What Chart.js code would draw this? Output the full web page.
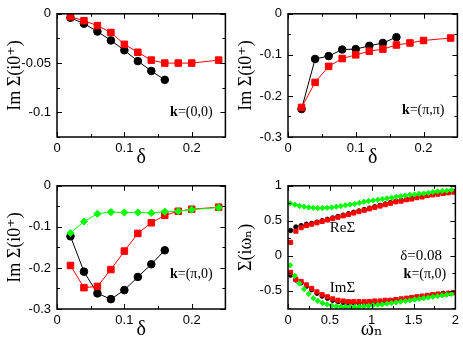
<!DOCTYPE html>
<html>
<head>
<meta charset="utf-8">
<script src="https://cdn.jsdelivr.net/npm/chart.js@4/dist/chart.umd.min.js"></script>
<style>
  body { margin: 0; background: #fff; width: 463px; height: 344px; position: relative; overflow: hidden; }
  canvas { position: absolute; }
</style>
</head>
<body>
<canvas id="c1" width="231" height="172" style="left:0;top:0"></canvas>
<canvas id="c2" width="232" height="172" style="left:231px;top:0"></canvas>
<canvas id="c3" width="231" height="172" style="left:0;top:172px"></canvas>
<canvas id="c4" width="232" height="172" style="left:231px;top:172px"></canvas>
<script>
// doping values
const deltaShort = [0.02, 0.04, 0.06, 0.08, 0.10, 0.12, 0.14, 0.16];
const deltaLong = [0.02, 0.04, 0.06, 0.08, 0.10, 0.12, 0.14, 0.16, 0.18, 0.20, 0.24];

// k=(0,0)
const k00Black = [-0.004, -0.010, -0.018, -0.027, -0.037, -0.048, -0.058, -0.067];
const k00Red = [-0.003, -0.007, -0.012, -0.019, -0.031, -0.039, -0.047, -0.050, -0.050, -0.050, -0.047];

// k=(pi,pi)
const kppBlack = [-0.232, -0.110, -0.103, -0.087, -0.086, -0.078, -0.071, -0.057];
const kppRed = [-0.228, -0.167, -0.128, -0.109, -0.100, -0.091, -0.086, -0.076, -0.071, -0.065, -0.059];

// k=(pi,0)
const kp0Black = [-0.123, -0.209, -0.262, -0.276, -0.254, -0.222, -0.191, -0.157];
const kp0Red = [-0.194, -0.248, -0.245, -0.204, -0.159, -0.116, -0.090, -0.072, -0.062, -0.057, -0.052];
const kp0Green = [-0.115, -0.087, -0.068, -0.064, -0.065, -0.065, -0.066, -0.063, -0.062, -0.058, -0.053];

// Matsubara frequencies, delta=0.08, k=(pi,0)
const wnA = [0.031, 0.094, 0.157, 0.220, 0.283, 0.346, 0.408, 0.471, 0.534, 0.597, 0.660, 0.723,
  0.785, 0.848, 0.911, 0.974, 1.037, 1.100, 1.162, 1.225, 1.288, 1.351, 1.414, 1.477,
  1.539, 1.602, 1.665, 1.728, 1.791, 1.854, 1.916, 1.979];
const wnB = [0.027, 0.082, 0.137, 0.192, 0.247, 0.302, 0.357, 0.412, 0.467, 0.522, 0.577, 0.632,
  0.687, 0.742, 0.797, 0.852, 0.907, 0.962, 1.017, 1.072, 1.127, 1.182, 1.237, 1.292,
  1.347, 1.402, 1.457, 1.512, 1.567, 1.622, 1.677, 1.732, 1.787, 1.842, 1.897, 1.952];
const reBlack = [0.36, 0.41, 0.43, 0.45, 0.46, 0.48, 0.50, 0.52, 0.54, 0.56, 0.58, 0.60,
  0.62, 0.64, 0.66, 0.68, 0.70, 0.72, 0.74, 0.76, 0.78, 0.79, 0.81, 0.82,
  0.84, 0.85, 0.87, 0.88, 0.89, 0.90, 0.91, 0.92];
const reRed = [0.19, 0.35, 0.40, 0.43, 0.45, 0.47, 0.49, 0.51, 0.53, 0.55, 0.57, 0.59,
  0.61, 0.63, 0.65, 0.67, 0.69, 0.71, 0.73, 0.75, 0.77, 0.78, 0.80, 0.81,
  0.83, 0.84, 0.86, 0.87, 0.88, 0.89, 0.90, 0.91];
const reGreen = [0.75, 0.73, 0.71, 0.70, 0.69, 0.685, 0.68, 0.68, 0.685, 0.69, 0.70, 0.71,
  0.72, 0.73, 0.74, 0.755, 0.77, 0.78, 0.79, 0.80, 0.81, 0.82, 0.83, 0.84,
  0.85, 0.86, 0.87, 0.875, 0.885, 0.89, 0.90, 0.91, 0.92, 0.925, 0.93, 0.94];
const imBlack = [-0.28, -0.35, -0.39, -0.44, -0.49, -0.54, -0.58, -0.61, -0.64, -0.66, -0.67, -0.68,
  -0.68, -0.68, -0.68, -0.67, -0.67, -0.66, -0.66, -0.65, -0.64, -0.63, -0.62, -0.61,
  -0.60, -0.59, -0.58, -0.57, -0.56, -0.54, -0.54, -0.53];
const imRed = [-0.24, -0.34, -0.37, -0.42, -0.47, -0.52, -0.56, -0.59, -0.62, -0.64, -0.65, -0.66,
  -0.66, -0.66, -0.66, -0.66, -0.65, -0.65, -0.64, -0.64, -0.63, -0.62, -0.61, -0.60,
  -0.59, -0.58, -0.57, -0.56, -0.55, -0.55, -0.54, -0.53];
const imGreen = [-0.14, -0.29, -0.40, -0.48, -0.55, -0.61, -0.65, -0.68, -0.70, -0.715, -0.725, -0.73,
  -0.735, -0.735, -0.735, -0.73, -0.725, -0.72, -0.71, -0.705, -0.70, -0.69, -0.68, -0.67,
  -0.66, -0.65, -0.64, -0.63, -0.62, -0.61, -0.60, -0.59, -0.58, -0.57, -0.56, -0.55];

// tick labels
const deltaTicks = [0, 0.1, 0.2];
const k00Ticks = [0, -0.05, -0.1];
const sigTicks = [0, -0.1, -0.2, -0.3];
const wnTicks = [0, 0.5, 1, 1.5, 2];
const reimTicks = [1, 0.5, 0, -0.5];

const SERIF = '"Liberation Serif", "DejaVu Serif", serif';
const SANS = '"Liberation Sans", Arial, sans-serif';
const RED = '#ff0000', GREEN = '#00ff00', BLACK = '#000000';

const pts = (xs, ys) => ys.map((y, i) => ({ x: xs[i], y }));

function series(xs, ys, color, style, r, line) {
  return {
    data: pts(xs, ys),
    showLine: line,
    borderColor: color,
    borderWidth: 1,
    backgroundColor: color,
    pointStyle: style,
    pointRadius: r,
    pointBorderWidth: 1,
    pointBorderColor: color,
    pointBackgroundColor: color
  };
}

// box + inward ticks on all sides + text notes
const framePlugin = {
  id: 'frame',
  afterDraw(chart, args, o) {
    const { ctx, chartArea: a, scales: { x, y } } = chart;
    ctx.save();
    ctx.strokeStyle = '#000';
    ctx.lineWidth = 1.5;
    ctx.strokeRect(a.left, a.top, a.right - a.left, a.bottom - a.top);
    ctx.lineWidth = 1;
    const marks = (min, max, minor, major) => {
      const out = [];
      for (let k = Math.ceil(min / minor - 1e-6); k * minor <= max + 1e-9; k++) {
        const v = k * minor;
        out.push({ v, big: Math.abs(v / major - Math.round(v / major)) < 1e-6 });
      }
      return out;
    };
    ctx.beginPath();
    marks(x.min, x.max, o.xMinor, o.xMajor).forEach(m => {
      const p = Math.round(x.getPixelForValue(m.v)) + 0.5;
      const l = m.big ? 5 : 3;
      ctx.moveTo(p, a.bottom); ctx.lineTo(p, a.bottom - l);
      ctx.moveTo(p, a.top); ctx.lineTo(p, a.top + l);
    });
    marks(y.min, y.max, o.yMinor, o.yMajor).forEach(m => {
      const p = Math.round(y.getPixelForValue(m.v)) + 0.5;
      const l = m.big ? 5 : 3;
      ctx.moveTo(a.left, p); ctx.lineTo(a.left + l, p);
      ctx.moveTo(a.right, p); ctx.lineTo(a.right - l, p);
    });
    ctx.stroke();

    ctx.fillStyle = '#000';
    ctx.textBaseline = 'middle';
    ctx.textAlign = 'left';
    (o.notes || []).forEach(n => {
      const parts = n.parts.map(p => {
        ctx.font = (p.b ? 'bold ' : '') + n.size + 'px ' + SERIF;
        return { t: p.t, b: p.b, w: ctx.measureText(p.t).width };
      });
      const total = parts.reduce((s, p) => s + p.w, 0);
      let px = x.getPixelForValue(n.x);
      const py = y.getPixelForValue(n.y);
      if (n.align === 'right') px -= total;
      parts.forEach(p => {
        ctx.font = (p.b ? 'bold ' : '') + n.size + 'px ' + SERIF;
        ctx.fillText(p.t, px, py);
        px += p.w;
      });
    });
    ctx.restore();
  }
};

function panel(id, datasets, c) {
  return new Chart(document.getElementById(id), {
    type: 'scatter',
    data: { datasets },
    options: {
      responsive: false,
      animation: false,
      events: [],
      layout: { padding: { top: 5, right: c.padRight, bottom: 0, left: 0 } },
      plugins: { legend: { display: false }, tooltip: { enabled: false }, frame: c.frame },
      scales: {
        x: {
          type: 'linear', min: c.xMin, max: c.xMax,
          afterBuildTicks: s => { s.ticks = c.xTicks.map(v => ({ value: v })); },
          afterFit: s => { s.height = 35; },
          grid: { display: false, drawTicks: false },
          border: { display: false },
          ticks: { padding: 4, color: '#000', autoSkip: false, maxRotation: 0,
            font: { family: SANS, size: 13 }, callback: v => String(v) },
          title: { display: true, text: c.xTitle, color: '#000',
            font: { family: SERIF, size: 20 }, padding: { top: 0, bottom: 2 } }
        },
        y: {
          type: 'linear', min: c.yMin, max: c.yMax,
          afterBuildTicks: s => { s.ticks = c.yTicks.map(v => ({ value: v })); },
          afterFit: s => { s.width = 57; },
          grid: { display: false, drawTicks: false },
          border: { display: false },
          ticks: { padding: 6, color: '#000', autoSkip: false,
            font: { family: SANS, size: 13 }, callback: v => String(v) },
          title: { display: true, text: c.yTitle, color: '#000',
            font: { family: SERIF, size: 18 }, padding: { top: 4, bottom: 0 } }
        }
      }
    },
    plugins: [framePlugin]
  });
}

const kLabel = (rest, x, y) => ({ x, y, align: 'right', size: 14, parts: [{ t: 'k', b: true }, { t: rest }] });

panel('c1', [
  series(deltaLong, k00Red, RED, 'rect', 4.6, true),
  series(deltaShort, k00Black, BLACK, 'circle', 3.8, true)
], {
  padRight: 3, xMin: 0, xMax: 0.25, yMin: -0.125, yMax: 0,
  xTicks: deltaTicks, yTicks: k00Ticks, xTitle: 'δ', yTitle: 'Im Σ(i0⁺)',
  frame: { xMinor: 0.05, xMajor: 0.1, yMinor: 0.025, yMajor: 0.05,
    notes: [kLabel('=(0,0)', 0.231, -0.1)] }
});

panel('c2', [
  series(deltaLong, kppRed, RED, 'rect', 4.6, true),
  series(deltaShort, kppBlack, BLACK, 'circle', 3.8, true)
], {
  padRight: 4, xMin: 0, xMax: 0.25, yMin: -0.3, yMax: 0,
  xTicks: deltaTicks, yTicks: sigTicks, xTitle: 'δ', yTitle: 'Im Σ(i0⁺)',
  frame: { xMinor: 0.05, xMajor: 0.1, yMinor: 0.05, yMajor: 0.1,
    notes: [kLabel('=(π,π)', 0.231, -0.235)] }
});

panel('c3', [
  series(deltaLong, kp0Green, GREEN, 'rectRot', 3.6, true),
  series(deltaLong, kp0Red, RED, 'rect', 4.6, true),
  series(deltaShort, kp0Black, BLACK, 'circle', 3.8, true)
], {
  padRight: 3, xMin: 0, xMax: 0.25, yMin: -0.3, yMax: 0,
  xTicks: deltaTicks, yTicks: sigTicks, xTitle: 'δ', yTitle: 'Im Σ(i0⁺)',
  frame: { xMinor: 0.05, xMajor: 0.1, yMinor: 0.05, yMajor: 0.1,
    notes: [kLabel('=(π,0)', 0.231, -0.216)] }
});

panel('c4', [
  series(wnB, reGreen, GREEN, 'rectRot', 2.6, false),
  series(wnB, imGreen, GREEN, 'rectRot', 2.6, false),
  series(wnA, reRed, RED, 'rect', 2.9, false),
  series(wnA, imRed, RED, 'rect', 2.9, false),
  series(wnA, reBlack, BLACK, 'circle', 2.2, false),
  series(wnA, imBlack, BLACK, 'circle', 2.2, false)
], {
  padRight: 4, xMin: 0, xMax: 2, yMin: -0.765, yMax: 1,
  xTicks: wnTicks, yTicks: reimTicks, xTitle: 'ωₙ', yTitle: 'Σ(iωₙ)',
  frame: { xMinor: 0.25, xMajor: 0.5, yMinor: 0.25, yMajor: 0.5,
    notes: [
      { x: 0.5, y: 0.39, size: 15, parts: [{ t: 'ReΣ' }] },
      { x: 1.84, y: -0.01, align: 'right', size: 15, parts: [{ t: 'δ=0.08' }] },
      { x: 1.89, y: -0.27, align: 'right', size: 14, parts: [{ t: 'k', b: true }, { t: '=(π,0)' }] },
      { x: 0.5, y: -0.47, size: 15, parts: [{ t: 'ImΣ' }] }
    ] }
});
</script>
</body>
</html>
